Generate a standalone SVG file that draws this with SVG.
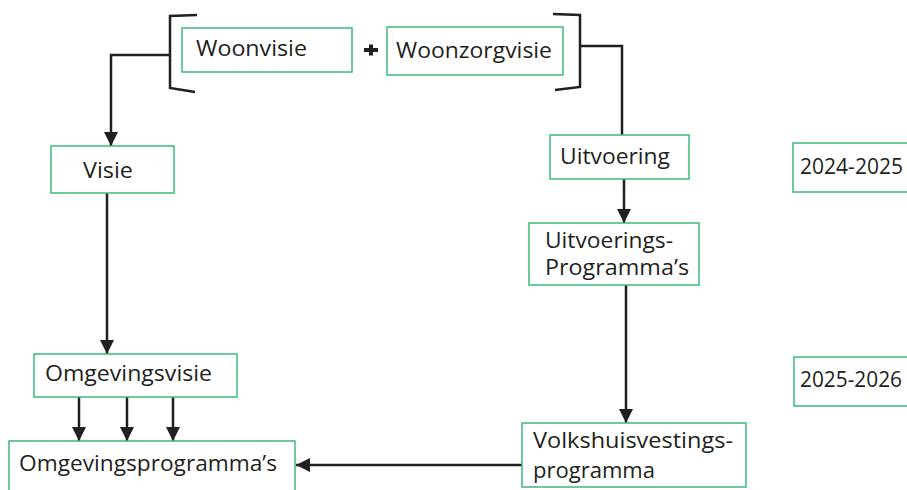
<svg xmlns="http://www.w3.org/2000/svg" width="907" height="490" viewBox="0 0 907 490">
<defs>
<marker id="ah" markerUnits="userSpaceOnUse" markerWidth="14" markerHeight="16" viewBox="0 0 14 16" refX="14" refY="8" orient="auto">
<path d="M0,1 L14,8 L0,15 Z" fill="#231f20"/>
</marker>
<style>
.box{fill:#fff;stroke:#3dbb7a;stroke-width:1.5}
.t{font-family:"Open Sans","Noto Sans",sans-serif;font-size:22px;fill:#231f20}
.ln{fill:none;stroke:#231f20;stroke-width:2.5}
.ar{fill:none;stroke:#231f20;stroke-width:2.5;marker-end:url(#ah)}
</style>
</defs>
<rect width="907" height="490" fill="#fff"/>
<g id="connectors">
<path class="ln" d="M197,15 L170,16 L170,88 L195,92"/>
<path class="ln" d="M553,14 L580,15 L580,87 L555,90"/>
<path class="ar" d="M170,55 L111,55 L111,146"/>
<path class="ln" d="M580,46 L622,46 L622,135"/>
<path class="ar" d="M624,179 L624,223"/>
<path class="ar" d="M626,285 L626,423"/>
<path class="ar" d="M107,193 L107,354"/>
<path class="ar" d="M79,397 L79,441"/>
<path class="ar" d="M127,397 L127,441"/>
<path class="ar" d="M173,397 L173,441"/>
<path class="ar" d="M522,465 L296,465"/>
<path d="M364,50 H378 M371,44.5 V55.5" stroke="#231f20" stroke-width="4" fill="none"/>
</g>
<g id="woonvisie"><rect class="box" x="182" y="28" width="170" height="44"/><text class="t" x="196" y="56" textLength="111" lengthAdjust="spacingAndGlyphs">Woonvisie</text></g>
<g id="woonzorgvisie"><rect class="box" x="387" y="27" width="176" height="48"/><text class="t" x="396" y="58" textLength="156" lengthAdjust="spacingAndGlyphs">Woonzorgvisie</text></g>
<g id="visie"><rect class="box" x="51" y="146" width="123" height="47"/><text class="t" x="83" y="178" textLength="50" lengthAdjust="spacingAndGlyphs">Visie</text></g>
<g id="uitvoering"><rect class="box" x="550" y="135" width="139" height="44"/><text class="t" x="560" y="164" textLength="110" lengthAdjust="spacingAndGlyphs">Uitvoering</text></g>
<g id="uitvoeringsprogrammas"><rect class="box" x="529" y="223" width="170" height="62"/><text class="t" x="545" y="248" textLength="128" lengthAdjust="spacingAndGlyphs">Uitvoerings-</text><text class="t" x="545" y="275" textLength="144" lengthAdjust="spacingAndGlyphs">Programma’s</text></g>
<g id="jaar1"><rect class="box" x="793" y="143" width="120" height="49"/><text class="t" x="800" y="174" textLength="103" lengthAdjust="spacingAndGlyphs">2024-2025</text></g>
<g id="jaar2"><rect class="box" x="794" y="357" width="120" height="49"/><text class="t" x="800" y="387" textLength="102" lengthAdjust="spacingAndGlyphs">2025-2026</text></g>
<g id="omgevingsvisie"><rect class="box" x="34" y="354" width="203" height="43"/><text class="t" x="45" y="381" textLength="167" lengthAdjust="spacingAndGlyphs">Omgevingsvisie</text></g>
<g id="omgevingsprogrammas"><rect class="box" x="9" y="441" width="286" height="52"/><text class="t" x="19" y="471" textLength="258" lengthAdjust="spacingAndGlyphs">Omgevingsprogramma’s</text></g>
<g id="volkshuisvestingsprogramma"><rect class="box" x="522" y="423" width="224" height="64"/><text class="t" x="533" y="448" textLength="200" lengthAdjust="spacingAndGlyphs">Volkshuisvestings-</text><text class="t" x="533" y="478" textLength="122" lengthAdjust="spacingAndGlyphs">programma</text></g>
</svg>
